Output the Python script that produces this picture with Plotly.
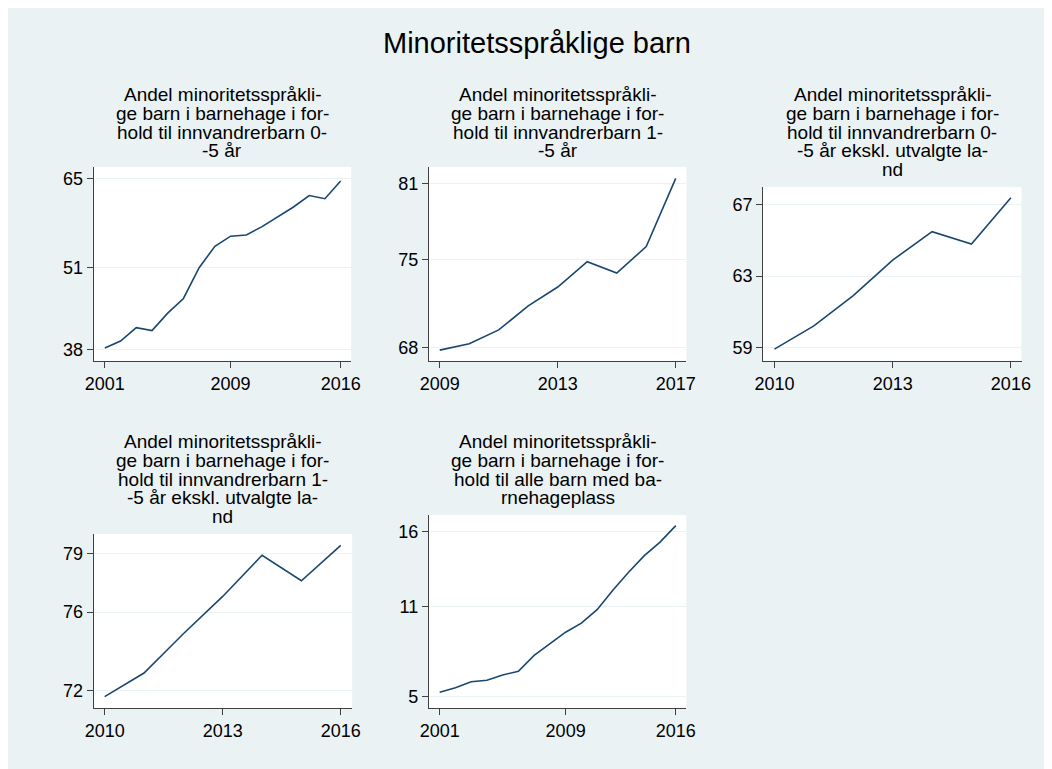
import plotly.graph_objects as go

# ---------------- data ----------------
years_a = [2001, 2002, 2003, 2004, 2005, 2006, 2007, 2008, 2009, 2010, 2011, 2012, 2013, 2014, 2015, 2016]
years_b = [2009, 2010, 2011, 2012, 2013, 2014, 2015, 2016, 2017]
years_c = [2010, 2011, 2012, 2013, 2014, 2015, 2016]

andel_0_5 = [38.3, 39.4, 41.5, 41.05, 43.8, 46.1, 50.95, 54.3, 55.9, 56.1, 57.4, 58.95, 60.5, 62.3, 61.8, 64.6]
andel_1_5 = [67.8, 68.3, 69.4, 71.3, 72.8, 74.8, 73.9, 76.0, 81.4]
andel_0_5_ekskl = [58.9, 60.2, 61.9, 63.9, 65.5, 64.8, 67.4]
andel_1_5_ekskl = [71.7, 72.9, 74.9, 76.8, 78.9, 77.6, 79.4]
andel_alle = [5.3, 5.6, 6.0, 6.1, 6.45, 6.7, 7.75, 8.55, 9.3, 9.9, 10.8, 12.1, 13.3, 14.4, 15.3, 16.4]

main_title = "Minoritetsspråklige barn"
sub_titles = [
    ["Andel minoritetsspråkli-", "ge barn i barnehage i for-", "hold til innvandrerbarn 0-", "-5 år"],
    ["Andel minoritetsspråkli-", "ge barn i barnehage i for-", "hold til innvandrerbarn 1-", "-5 år"],
    ["Andel minoritetsspråkli-", "ge barn i barnehage i for-", "hold til innvandrerbarn 0-", "-5 år ekskl. utvalgte la-", "nd"],
    ["Andel minoritetsspråkli-", "ge barn i barnehage i for-", "hold til innvandrerbarn 1-", "-5 år ekskl. utvalgte la-", "nd"],
    ["Andel minoritetsspråkli-", "ge barn i barnehage i for-", "hold til alle barn med ba-", "rnehageplass"],
]
series_x = [years_a, years_b, years_c, years_c, years_a]
series_y = [andel_0_5, andel_1_5, andel_0_5_ekskl, andel_1_5_ekskl, andel_alle]
y_ticks = [[38, 51, 65], [68, 75, 81], [59, 63, 67], [72, 76, 79], [5, 11, 16]]
x_ticks = [[2001, 2009, 2016], [2009, 2013, 2017], [2010, 2013, 2016], [2010, 2013, 2016], [2001, 2009, 2016]]
x_ranges = [[2000.29, 2016.67], [2008.63, 2017.36], [2009.71, 2016.27], [2009.72, 2016.29], [2000.31, 2016.67]]
y_ranges = [[36.26, 66.79], [66.94, 82.30], [58.23, 68.01], [71.12, 79.98], [4.25, 17.11]]

# ---------------- layout geometry (pixels, screenshot frame) ----------------
W, H = 1052, 769
OX, OY = 8, 8  # page body margin offset
boxes = [  # left, right, top, bottom
    (86, 348, 167, 361),
    (427, 689, 167, 361),
    (767, 1030, 187, 361),
    (86, 349, 534, 708),
    (427, 689, 515, 708),
]
row_title_top = [95, 95, 95, 442, 442]
line_gap = 18.5

BG = "#EAF2F3"
NAVY = "#1A476F"
AX = "#404040"
FONT = "Liberation Sans, Arial, sans-serif"


def px_x(v):
    return (v - OX) / W


def px_y(v):
    return 1 - (v - OY) / H


fig = go.Figure()
layout = dict(
    width=W, height=H,
    margin=dict(l=0, r=0, t=0, b=0),
    paper_bgcolor=BG, plot_bgcolor="white",
    showlegend=False,
    font=dict(family=FONT, size=18, color="black"),
)
annotations = []

for i in range(5):
    n = i + 1
    l, r, t, b = boxes[i]
    xa = "x" if n == 1 else f"x{n}"
    ya = "y" if n == 1 else f"y{n}"
    fig.add_trace(go.Scatter(
        x=series_x[i], y=series_y[i], mode="lines",
        line=dict(color=NAVY, width=1.6),
        xaxis=xa, yaxis=ya, hoverinfo="x+y",
    ))
    layout[f"xaxis{n}" if n > 1 else "xaxis"] = dict(
        domain=[px_x(l), px_x(r)], anchor=ya, range=x_ranges[i],
        tickmode="array", tickvals=x_ticks[i], ticktext=[str(v) for v in x_ticks[i]],
        showline=True, linecolor=AX, linewidth=1,
        ticks="outside", ticklen=6, tickcolor=AX, tickwidth=1,
        showgrid=False, zeroline=False,
        tickfont=dict(family=FONT, size=18, color="black"),
    )
    layout[f"yaxis{n}" if n > 1 else "yaxis"] = dict(
        domain=[px_y(b), px_y(t)], anchor=xa, range=y_ranges[i],
        tickmode="array", tickvals=y_ticks[i], ticktext=[str(v) for v in y_ticks[i]],
        showline=True, linecolor=AX, linewidth=1,
        ticks="outside", ticklen=6, tickcolor=AX, tickwidth=1,
        showgrid=True, gridcolor=BG, gridwidth=1.2, zeroline=False,
        tickfont=dict(family=FONT, size=18, color="black"),
    )
    cx = px_x((l + r) / 2)
    for k, line in enumerate(sub_titles[i]):
        ypx = row_title_top[i] + k * line_gap
        annotations.append(dict(
            text=line, xref="paper", yref="paper", x=cx, y=px_y(ypx),
            xanchor="center", yanchor="middle", showarrow=False,
            font=dict(family=FONT, size=19, color="black"),
        ))

annotations.append(dict(
    text=main_title, xref="paper", yref="paper", x=px_x(537), y=px_y(43),
    xanchor="center", yanchor="middle", showarrow=False,
    font=dict(family=FONT, size=29, color="black"),
))
layout["annotations"] = annotations
fig.update_layout(**layout)
fig.write_html("out.html")
